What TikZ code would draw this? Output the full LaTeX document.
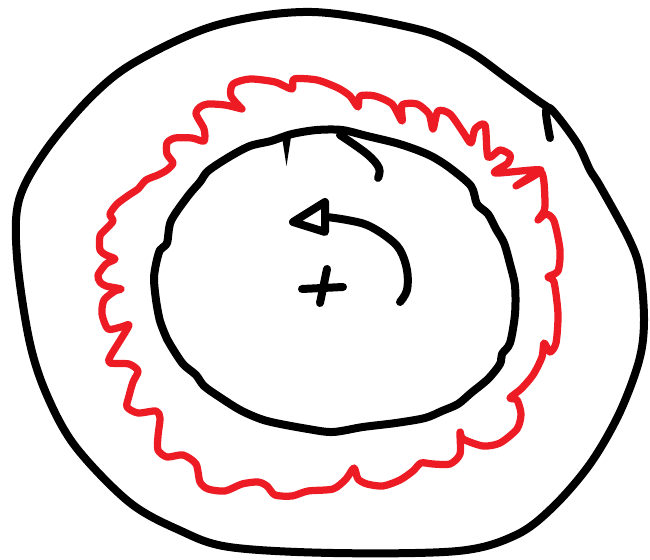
\documentclass[tikz,border=0pt]{standalone}
\usepackage{xcolor}
\usepackage{tikz}
\definecolor{sketchred}{RGB}{237,28,36}

\begin{document}
\begin{tikzpicture}[
    x=0.02cm, y=-0.02cm,
    ink/.style={line width=0.16cm, line cap=round, line join=round, black},
    redink/.style={line width=0.145cm, line cap=round, line join=round, sketchred}
]
    \useasboundingbox (0,0) rectangle (650,560);

    % outer ring
    \draw[ink] plot[smooth, tension=0.55] coordinates {
        (550,138) (546,112) (552,110) (577,143) (590,170) (600,186) (629,239)
        (640,271) (644,321) (639,361) (619,414) (590,464) (553,507) (516,535)
        (458,551) (333,553) (229,547) (179,530) (129,502) (75,446) (46,393)
        (29,339) (17,257) (19,200) (46,150) (92,96) (137,61) (217,25)
        (312,12) (417,29) (467,50) (508,79) (537,100) (552,110)};

    % red wavy ring
    \draw[redink] plot[smooth, tension=0.45] coordinates {
        (242,109) (231,96) (233,84) (250,79) (275,82) (292,89) (294,79)
        (317,80) (338,88) (350,96) (358,107) (360,96) (375,96) (392,104)
        (402,121) (402,105) (417,104) (429,114) (433,129) (438,111) (450,114)
        (463,132) (471,143) (475,129) (485,125) (488,157) (500,150) (510,155)
        (508,163) (495,173) (541,170) (516,186) (541,172) (545,200) (544,211)
        (538,220) (546,214) (554,221) (560,250) (558,271) (548,277) (554,282)
        (558,314) (556,343) (550,352) (544,343) (542,357) (533,375) (521,389)
        (510,398) (517,400) (521,414) (517,429) (500,443) (483,446) (463,439)
        (460,432) (460,454) (450,464) (433,464) (421,463) (413,471) (400,480)
        (383,486) (367,484) (358,479) (354,468) (346,479) (333,489) (308,491)
        (292,496) (275,495) (267,486) (258,482) (242,484) (225,491) (208,489)
        (200,482) (196,464) (183,455) (167,457) (158,450) (158,436) (160,418)
        (156,411) (138,413) (127,407) (129,396) (133,382) (138,371) (129,364)
        (110,363) (110,357) (121,339) (129,325) (121,327) (108,329) (102,314)
        (104,300) (115,291) (121,289) (106,286) (100,282) (98,275) (106,264)
        (115,259) (106,255) (100,250) (100,236) (106,229) (113,221) (110,214)
        (117,204) (129,195) (138,189) (146,180) (158,175) (167,170) (173,163)
        (167,154) (167,143) (175,138) (192,138) (204,141) (204,129) (196,114)
        (200,107) (208,104) (225,105) (242,109)};

    % inner ring
    \draw[ink] plot[smooth cycle, tension=0.5] coordinates {
        (292,134) (317,130) (342,130) (367,136) (396,143) (417,150) (433,157)
        (450,168) (471,186) (477,204) (488,214) (496,229) (504,243) (510,264)
        (515,286) (515,314) (510,343) (502,354) (500,364) (488,379) (471,393)
        (458,404) (442,411) (425,418) (396,423) (363,427) (333,432) (308,429)
        (267,421) (242,411) (221,398) (204,386) (196,375) (183,364) (171,346)
        (167,339) (160,321) (156,300) (154,279) (156,264) (160,250) (167,243)
        (171,221) (188,196) (200,182) (208,171) (229,157) (250,146) (271,141)};
    \fill (282,137) -- (291,137) -- (286.5,166) -- cycle;

    % small turn at the top
    \draw[ink] plot[smooth, tension=0.6] coordinates {
        (340,135) (367,154) (379,168) (378,178)};

    % rotation arrow
    \coordinate (tail) at (400,302);
    \coordinate (tip) at (293,222);
    \draw[ink] plot[smooth, tension=0.6] coordinates {
        (tail) (407,290) (407,270) (400,250) (387,237) (367,225) (347,220) (327,217)};
    \draw[ink] (tip) -- (325,202) -- (325,232) -- cycle;

    % centre mark
    \coordinate (centre) at (323,288);
    \draw[ink] (302,289) -- (343,287);
    \draw[ink] (327,269) -- (320,303);
\end{tikzpicture}
\end{document}
